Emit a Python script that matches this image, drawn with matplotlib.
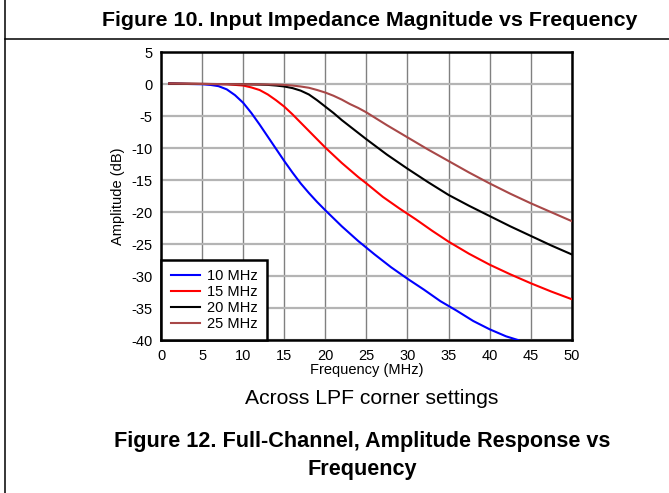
import matplotlib
matplotlib.use("Agg")
import matplotlib.pyplot as plt
from matplotlib.lines import Line2D

plt.rcParams['font.family'] = ['Liberation Sans', 'DejaVu Sans']

# Amplitude response across LPF corner settings
freq_10 = [1, 3, 5, 6, 7, 8, 9, 10, 11, 12, 13, 14, 15, 16, 17, 18, 19, 20,
           22, 24, 26, 28, 30, 32, 34, 36, 38, 40, 42, 43.5]
amp_10 = [0.1, 0.05, 0, -0.1, -0.3, -0.8, -1.7, -2.9, -4.5, -6.3, -8.2, -10.1,
          -12.0, -13.8, -15.5, -17.0, -18.4, -19.7, -22.2, -24.5, -26.6, -28.6,
          -30.4, -32.1, -33.9, -35.4, -37.0, -38.3, -39.4, -40.0]

freq_15 = [1, 5, 8, 9, 10, 11, 12, 13, 14, 15, 16, 17, 18, 19, 20, 21, 22, 23,
           24, 25, 27, 29, 31, 33, 35, 37.5, 40, 42.5, 45, 47.5, 50]
amp_15 = [0.1, 0.05, 0, -0.1, -0.2, -0.5, -0.9, -1.6, -2.5, -3.5, -4.7, -6.0,
          -7.3, -8.6, -9.9, -11.1, -12.3, -13.4, -14.5, -15.5, -17.6, -19.4,
          -21.1, -22.9, -24.6, -26.5, -28.2, -29.7, -31.1, -32.4, -33.6]

freq_20 = [1, 5, 10, 12, 13, 14, 15, 16, 17, 18, 19, 20, 21, 22, 23, 24, 25,
           27.5, 30, 32.5, 35, 37.5, 40, 42.5, 45, 47.5, 50]
amp_20 = [0.1, 0.05, 0, -0.05, -0.1, -0.2, -0.35, -0.6, -1.0, -1.6, -2.5, -3.5,
          -4.5, -5.6, -6.6, -7.6, -8.6, -11.0, -13.2, -15.3, -17.3, -19.0,
          -20.6, -22.2, -23.7, -25.2, -26.6]

freq_25 = [1, 5, 10, 14, 15, 16, 17, 18, 19, 20, 21, 22, 23, 24, 25, 27.5, 30,
           32.5, 35, 37.5, 40, 42.5, 45, 47.5, 50]
amp_25 = [0.1, 0.05, 0, -0.05, -0.1, -0.2, -0.35, -0.55, -0.9, -1.3, -1.8, -2.4,
          -3.1, -3.7, -4.4, -6.4, -8.3, -10.2, -12.0, -13.8, -15.5, -17.1,
          -18.6, -20.0, -21.4]

labels = ['10 MHz', '15 MHz', '20 MHz', '25 MHz']
colors = ['#0000FF', '#FF0000', '#000000', '#A84848']

x_ticks = list(range(0, 51, 5))
y_ticks = list(range(-40, 6, 5))

fig = plt.figure(figsize=(6.69, 4.93), dpi=100)
ax = fig.add_axes([0.2407, 0.310, 0.614, 0.584])

series = [(freq_10, amp_10), (freq_15, amp_15), (freq_20, amp_20), (freq_25, amp_25)]
for (f, a), lab, c in zip(series, labels, colors):
    ax.plot(f, a, color=c, lw=1.5, label=lab, zorder=3)

ax.set_xlim(0, 50)
ax.set_ylim(-40, 5)
ax.set_xticks(x_ticks)
ax.set_yticks(y_ticks)
ax.tick_params(length=0, labelsize=10.5, pad=6)
ax.set_xticklabels([str(v) for v in x_ticks])
ax.set_yticklabels([str(v) for v in y_ticks])

# vertical grid darker and thin, horizontal grid lighter and thicker
ax.xaxis.grid(True, color='#808080', lw=1.0)
ax.yaxis.grid(True, color='#b4b4b4', lw=1.6)
ax.set_axisbelow(True)
for s in ax.spines.values():
    s.set_linewidth(1.8)

ax.set_xlabel('Frequency (MHz)', fontsize=10.5, labelpad=0)
ax.set_ylabel('Amplitude (dB)', fontsize=10.5, labelpad=5)

leg = ax.legend(loc='lower left', bbox_to_anchor=(0, 0), borderaxespad=0,
                fancybox=False, edgecolor='black', framealpha=1, fontsize=10.5,
                handlelength=2.0, handletextpad=0.5, labelspacing=0.12,
                borderpad=0.65)
leg.get_frame().set_linewidth(1.8)
leg.set_zorder(5)

# page text around the chart
fig.text(0.553, 1 - 20 / 493, 'Figure 10. Input Impedance Magnitude vs Frequency',
         ha='center', va='center', fontsize=15.4, fontweight='bold')
fig.text(0.555, 1 - 398 / 493, 'Across LPF corner settings',
         ha='center', va='center', fontsize=15.2)
fig.text(0.541, 1 - 442 / 493, 'Figure 12. Full-Channel, Amplitude Response vs',
         ha='center', va='center', fontsize=15.6, fontweight='bold')
fig.text(0.541, 1 - 469 / 493, 'Frequency',
         ha='center', va='center', fontsize=15.6, fontweight='bold')

fig.add_artist(Line2D([5 / 669, 5 / 669], [0, 1], color='black', lw=1.1,
                      transform=fig.transFigure))
fig.add_artist(Line2D([5 / 669, 1], [1 - 39 / 493, 1 - 39 / 493], color='black',
                      lw=1.1, transform=fig.transFigure))

fig.savefig('out.png', dpi=100)
